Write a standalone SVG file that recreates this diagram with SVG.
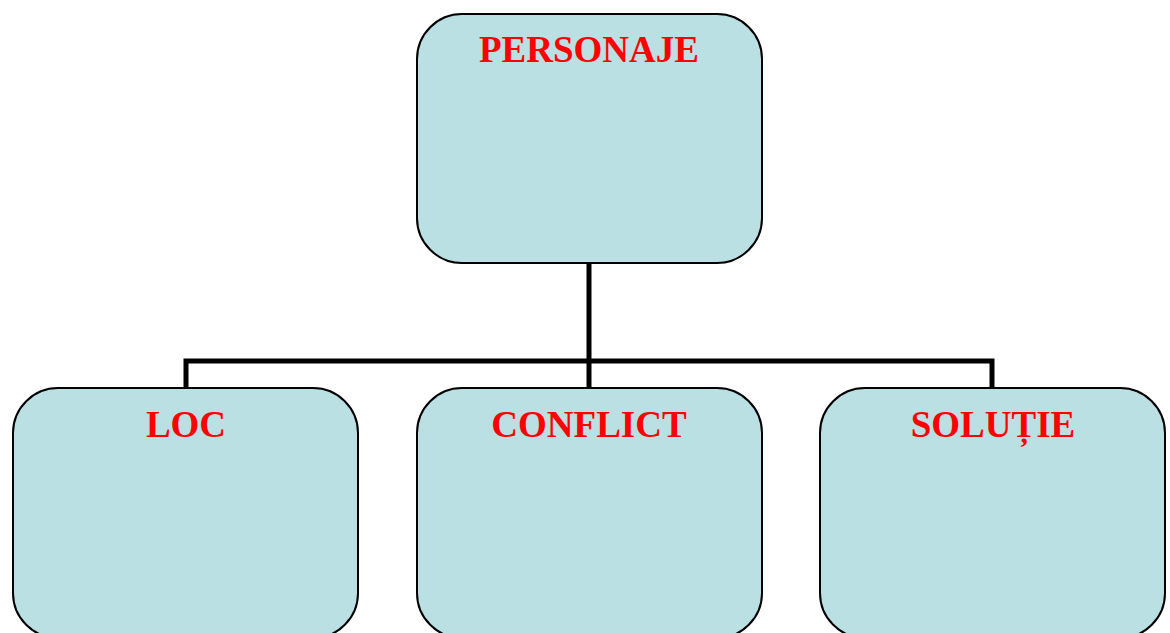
<svg xmlns="http://www.w3.org/2000/svg" width="1170" height="633" viewBox="0 0 1170 633">
<style>
.box{fill:#BBE0E3;stroke:#000;stroke-width:2}
.lbl{font-family:"Liberation Serif","Times New Roman",serif;font-weight:bold;font-size:37px;fill:#FF0000;text-anchor:middle}
.conn{fill:none;stroke:#000;stroke-width:5;stroke-linejoin:miter}
</style>
<rect width="1170" height="633" fill="#fff"/>
<g id="connectors">
<path class="conn" d="M589,263 V361"/>
<path class="conn" d="M186,388 V361 H992 V388"/>
<path class="conn" d="M589,361 V388"/>
</g>
<g id="personaje">
<rect class="box" x="417" y="14" width="345" height="249" rx="45" ry="45"/>
<text class="lbl" x="589" y="62">PERSONAJE</text>
</g>
<g id="loc">
<rect class="box" x="13" y="388" width="345" height="250" rx="45" ry="45"/>
<text class="lbl" x="186" y="437">LOC</text>
</g>
<g id="conflict">
<rect class="box" x="417" y="388" width="345" height="250" rx="45" ry="45"/>
<text class="lbl" x="589" y="437">CONFLICT</text>
</g>
<g id="solutie">
<rect class="box" x="820" y="388" width="345" height="250" rx="45" ry="45"/>
<text class="lbl" x="993" y="437">SOLUȚIE</text>
</g>
</svg>
